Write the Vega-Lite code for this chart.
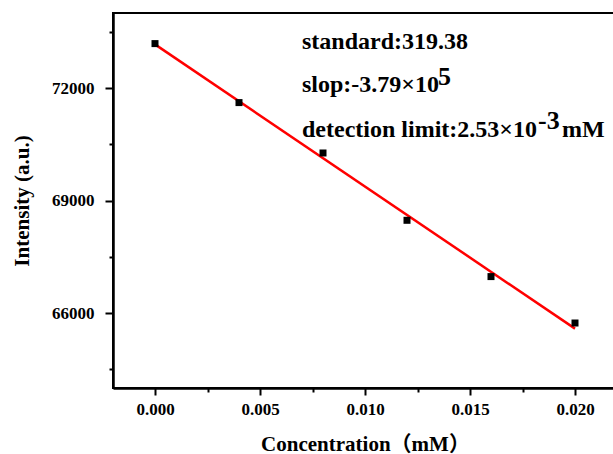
{
  "$schema": "https://vega.github.io/schema/vega-lite/v6.json",
  "autosize": {"type": "none"},
  "padding": {"left": 113, "top": 13, "right": 0, "bottom": 66},
  "width": 504,
  "height": 375,
  "background": "white",
  "view": {"stroke": "black", "strokeWidth": 2},
  "config": {
    "axis": {
      "grid": false,
      "domainColor": "black",
      "domainWidth": 2.5,
      "tickColor": "black",
      "tickWidth": 2,
      "labelFont": "Liberation Serif",
      "labelFontWeight": "bold",
      "labelFontSize": 17,
      "labelColor": "black",
      "titleFont": "Liberation Serif, Noto Sans CJK SC",
      "titleFontWeight": "bold",
      "titleFontSize": 21,
      "titleColor": "black"
    },
    "text": {"font": "Liberation Serif", "fontWeight": "bold", "fontSize": 24, "color": "black", "align": "left", "baseline": "alphabetic"}
  },
  "datasets": {
    "measured": [
      {"conc": 0.000, "intensity": 73184},
      {"conc": 0.004, "intensity": 71611},
      {"conc": 0.008, "intensity": 70267},
      {"conc": 0.012, "intensity": 68472},
      {"conc": 0.016, "intensity": 66971},
      {"conc": 0.020, "intensity": 65733}
    ],
    "fit": [
      {"conc": 0.000, "intensity": 73163},
      {"conc": 0.020, "intensity": 65583}
    ],
    "note": [{}]
  },
  "layer": [
    {
      "data": {"name": "fit"},
      "mark": {"type": "line", "color": "#ff0000", "strokeWidth": 2.5},
      "encoding": {
        "x": {
          "field": "conc", "type": "quantitative",
          "scale": {"domain": [-0.002, 0.022], "nice": false, "zero": false},
          "axis": {
            "title": "Concentration（mM）",
            "values": [0, 0.0025, 0.005, 0.0075, 0.01, 0.0125, 0.015, 0.0175, 0.02],
            "labelExpr": "abs(datum.value * 200 - round(datum.value * 200)) < 0.001 ? format(datum.value, '.3f') : ''",
            "tickSize": {"condition": {"test": "abs(datum.value * 200 - round(datum.value * 200)) < 0.001", "value": 7}, "value": 4},
            "labelPadding": 6,
            "titlePadding": 16
          }
        },
        "y": {
          "field": "intensity", "type": "quantitative",
          "scale": {"domain": [64000, 74000], "nice": false, "zero": false},
          "axis": {
            "title": "Intensity (a.u.)",
            "values": [64500, 66000, 67500, 69000, 70500, 72000, 73500],
            "labelExpr": "datum.value % 3000 === 0 ? format(datum.value, 'd') : ''",
            "tickSize": {"condition": {"test": "datum.value % 3000 === 0", "value": 8}, "value": 4},
            "labelPadding": 11,
            "titlePadding": 19
          }
        }
      }
    },
    {
      "data": {"name": "measured"},
      "mark": {"type": "square", "color": "black", "filled": true, "opacity": 1, "size": 49},
      "encoding": {
        "x": {"field": "conc", "type": "quantitative"},
        "y": {"field": "intensity", "type": "quantitative"}
      }
    },
    {
      "data": {"name": "note"},
      "mark": {"type": "text", "text": "standard:319.38"},
      "encoding": {"x": {"datum": 0.0070}, "y": {"datum": 73032}}
    },
    {
      "data": {"name": "note"},
      "mark": {"type": "text", "text": "slop:-3.79×10"},
      "encoding": {"x": {"datum": 0.0070}, "y": {"datum": 71885}}
    },
    {
      "data": {"name": "note"},
      "mark": {"type": "text", "text": "5", "fontSize": 26},
      "encoding": {"x": {"datum": 0.01348}, "y": {"datum": 72072}}
    },
    {
      "data": {"name": "note"},
      "mark": {"type": "text", "text": "detection limit:2.53×10"},
      "encoding": {"x": {"datum": 0.0070}, "y": {"datum": 70685}}
    },
    {
      "data": {"name": "note"},
      "mark": {"type": "text", "text": "-3", "fontSize": 26},
      "encoding": {"x": {"datum": 0.01824}, "y": {"datum": 70899}}
    },
    {
      "data": {"name": "note"},
      "mark": {"type": "text", "text": "mM"},
      "encoding": {"x": {"datum": 0.01938}, "y": {"datum": 70685}}
    }
  ]
}
